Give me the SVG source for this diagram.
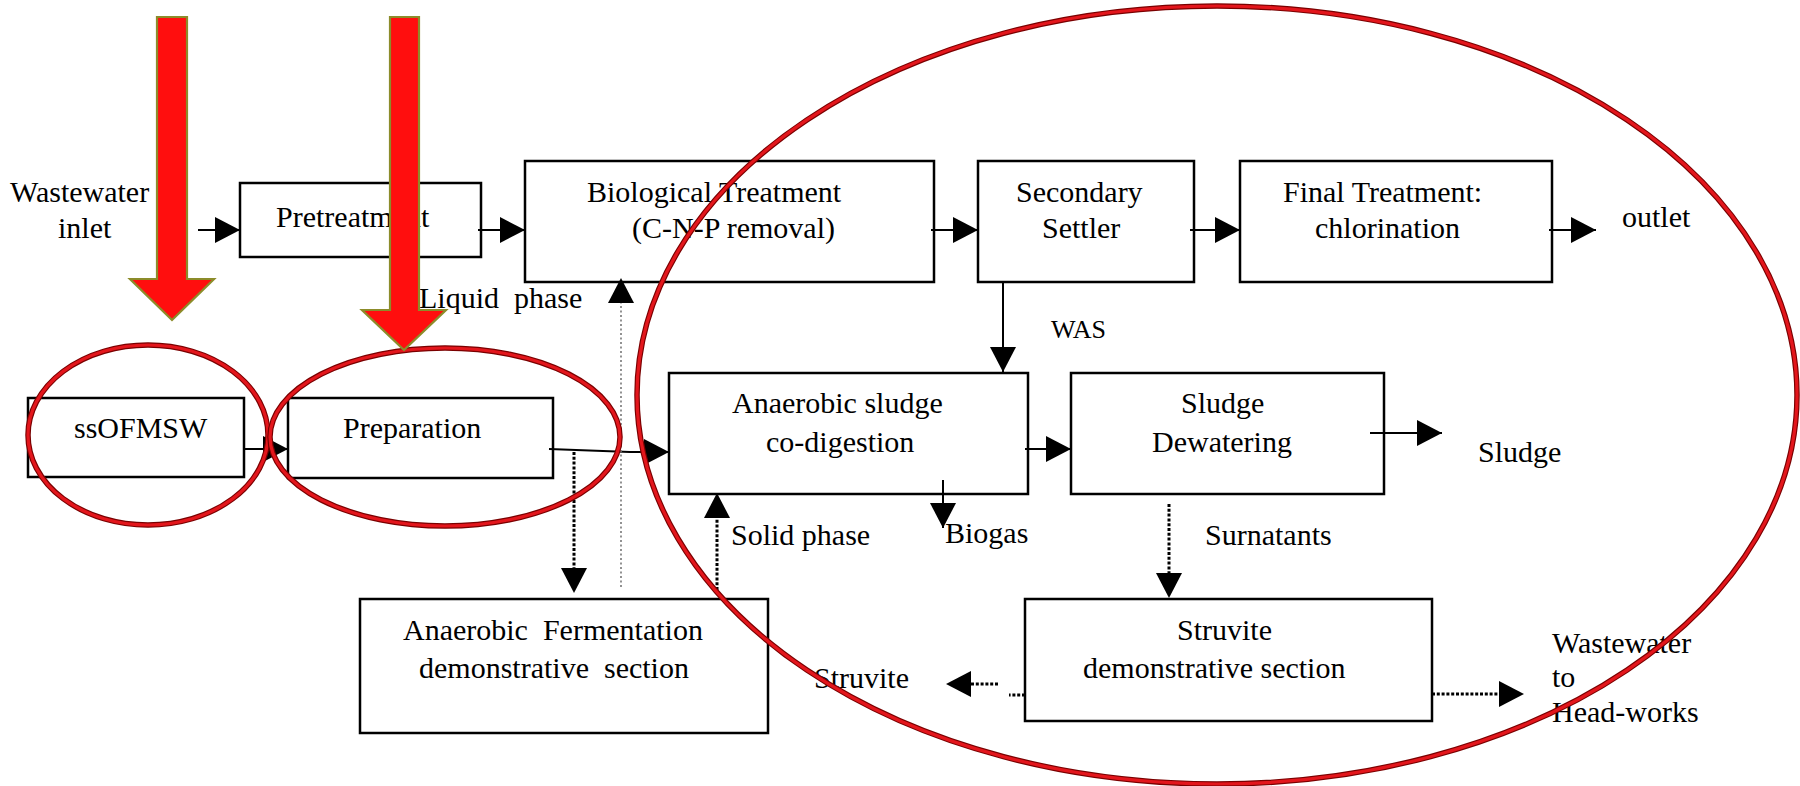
<svg xmlns="http://www.w3.org/2000/svg" width="1800" height="786" viewBox="0 0 1800 786">
<defs>
<style>
.box{fill:#fff;stroke:#000;stroke-width:2.5}
.t{font-family:"Liberation Serif","Times New Roman",serif;font-size:30px;fill:#000}
.was{font-size:26px}
.ln{fill:none;stroke:#000;stroke-width:2}
.dot{fill:none;stroke:#000;stroke-width:3;stroke-dasharray:3 1.8}
.dotg{fill:none;stroke:#777;stroke-width:1.6;stroke-dasharray:2 2.5}
.ring-o{fill:none;stroke:#7a0000;stroke-width:5.5}
.ring-i{fill:none;stroke:#e3161c;stroke-width:3.2}
.red{fill:#ff0e0e;stroke:#8c8c2a;stroke-width:2.2}
</style>
<marker id="ah" markerUnits="userSpaceOnUse" markerWidth="25" markerHeight="26" viewBox="0 0 25 26" refX="25" refY="13" orient="auto">
<path d="M0,0 L25,13 L0,26 Z" fill="#000"/>
</marker>
</defs>
<rect width="1800" height="786" fill="#fff"/>

<g id="node-pretreatment"><rect class="box" x="240" y="183" width="241" height="74"/><text class="t" x="276" y="227">Pretreatment</text></g>
<g id="node-biological"><rect class="box" x="525" y="161" width="409" height="121"/><text class="t" x="587" y="202">Biological Treatment</text><text class="t" x="632" y="238">(C-N-P removal)</text></g>
<g id="node-settler"><rect class="box" x="978" y="161" width="216" height="121"/><text class="t" x="1016" y="202">Secondary</text><text class="t" x="1042" y="238">Settler</text></g>
<g id="node-final"><rect class="box" x="1240" y="161" width="312" height="121"/><text class="t" x="1283" y="202">Final Treatment:</text><text class="t" x="1315" y="238">chlorination</text></g>
<g id="node-ssofmsw"><rect class="box" x="28" y="398" width="216" height="79"/><text class="t" x="74" y="438">ssOFMSW</text></g>
<g id="node-preparation"><rect class="box" x="288" y="398" width="265" height="80"/><text class="t" x="343" y="438">Preparation</text></g>
<g id="node-codigestion"><rect class="box" x="669" y="373" width="359" height="121"/><text class="t" x="732" y="413">Anaerobic sludge</text><text class="t" x="766" y="452">co-digestion</text></g>
<g id="node-dewatering"><rect class="box" x="1071" y="373" width="313" height="121"/><text class="t" x="1181" y="413">Sludge</text><text class="t" x="1152" y="452">Dewatering</text></g>
<g id="node-fermentation"><rect class="box" x="360" y="599" width="408" height="134"/><text class="t" x="403" y="640" xml:space="preserve">Anaerobic  Fermentation</text><text class="t" x="419" y="678" xml:space="preserve">demonstrative  section</text></g>
<g id="node-struvite"><rect class="box" x="1025" y="599" width="407" height="122"/><text class="t" x="1177" y="640">Struvite</text><text class="t" x="1083" y="678">demonstrative section</text></g>

<g id="connectors">
<line class="ln" x1="198" y1="230" x2="240" y2="230" marker-end="url(#ah)"/>
<line class="ln" x1="478" y1="230" x2="525" y2="230" marker-end="url(#ah)"/>
<line class="ln" x1="931" y1="230" x2="978" y2="230" marker-end="url(#ah)"/>
<line class="ln" x1="1190" y1="230" x2="1240" y2="230" marker-end="url(#ah)"/>
<line class="ln" x1="1549" y1="230" x2="1596" y2="230" marker-end="url(#ah)"/>
<line class="ln" x1="1003" y1="282" x2="1003" y2="372" marker-end="url(#ah)"/>
<line class="ln" x1="243" y1="449" x2="288" y2="449" marker-end="url(#ah)"/>
<path class="ln" d="M549,449 L630,452 L669,452" marker-end="url(#ah)"/>
<line class="ln" x1="1025" y1="449" x2="1071" y2="449" marker-end="url(#ah)"/>
<line class="ln" x1="943" y1="480" x2="943" y2="528" marker-end="url(#ah)"/>
<line class="ln" x1="1370" y1="433" x2="1442" y2="433" marker-end="url(#ah)"/>
<line class="dotg" x1="621" y1="587" x2="621" y2="303"/>
<line class="ln" x1="621" y1="304" x2="621" y2="278" stroke-opacity="0" marker-end="url(#ah)"/>
<line class="dot" x1="574" y1="452" x2="574" y2="571"/>
<line class="ln" x1="574" y1="570" x2="574" y2="593" stroke-opacity="0" marker-end="url(#ah)"/>
<line class="dot" x1="717" y1="590" x2="717" y2="518"/>
<line class="ln" x1="717" y1="519" x2="717" y2="493" stroke-opacity="0" marker-end="url(#ah)"/>
<line class="dot" x1="1169" y1="504" x2="1169" y2="574"/>
<line class="ln" x1="1169" y1="573" x2="1169" y2="598" stroke-opacity="0" marker-end="url(#ah)"/>
<line class="dot" x1="1025" y1="695" x2="1009" y2="695"/>
<line class="dot" x1="998" y1="684" x2="971" y2="684"/>
<line class="ln" x1="972" y1="684" x2="946" y2="684" stroke-opacity="0" marker-end="url(#ah)"/>
<line class="dot" x1="1432" y1="694" x2="1499" y2="694"/>
<line class="ln" x1="1498" y1="694" x2="1524" y2="694" stroke-opacity="0" marker-end="url(#ah)"/>
</g>

<g id="labels">
<text class="t" x="10" y="202">Wastewater</text>
<text class="t" x="58" y="238">inlet</text>
<text class="t" x="1622" y="227">outlet</text>
<text class="t" x="419" y="308" xml:space="preserve">Liquid  phase</text>
<text class="t was" x="1051" y="338">WAS</text>
<text class="t" x="1478" y="462">Sludge</text>
<text class="t" x="731" y="545">Solid phase</text>
<text class="t" x="945" y="543">Biogas</text>
<text class="t" x="1205" y="545">Surnatants</text>
<text class="t" x="814" y="688">Struvite</text>
<text class="t" x="1552" y="653">Wastewater</text>
<text class="t" x="1552" y="687">to</text>
<text class="t" x="1552" y="722">Head-works</text>
</g>

<g id="highlights">
<ellipse class="ring-o" cx="148" cy="435" rx="120" ry="90"/>
<ellipse class="ring-i" cx="148" cy="435" rx="120" ry="90"/>
<ellipse class="ring-o" cx="445" cy="437" rx="175" ry="89"/>
<ellipse class="ring-i" cx="445" cy="437" rx="175" ry="89"/>
<ellipse class="ring-o" cx="1217" cy="395" rx="580" ry="389"/>
<ellipse class="ring-i" cx="1217" cy="395" rx="580" ry="389"/>
<polygon class="red" points="157,17 187,17 187,279 214,279 172,320 130,279 157,279"/>
<polygon class="red" points="390,17 419,17 419,310 446,310 404,350 362,310 390,310"/>
</g>
</svg>
